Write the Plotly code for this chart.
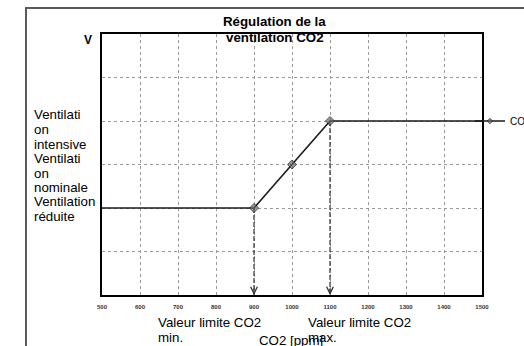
import plotly.graph_objects as go

# ---- data ----
co2_ppm = [500, 900, 1000, 1100, 1500]
ventilation_level = [2, 2, 3, 4, 4]
marker_sizes = [0, 7, 7, 7, 0]
x_ticks = [500, 600, 700, 800, 900, 1000, 1100, 1200, 1300, 1400, 1500]
limit_min = 900
limit_max = 1100
level_labels = [
    ("Ventilati", 115), ("on", 129.5), ("intensive", 144),
    ("Ventilati", 158.5), ("on", 173), ("nominale", 187.5),
    ("Ventilation", 201), ("réduite", 216.5),
]
series_name = "CO2"
title_lines = ["Régulation de la", "ventilation CO2"]

FONT = "Liberation Sans, Arial, sans-serif"
W, H = 524, 346
L, R, T, B = 102, 42, 34, 51
pw, ph = W - L - R, H - T - B

def px_x(px):
    return (px - L) / pw

def px_y(py):
    return (H - B - py) / ph

fig = go.Figure()
annotations = []

# dashed drop lines at the limit values
for xv in (limit_min, limit_max):
    yv = ventilation_level[co2_ppm.index(xv)]
    fig.add_trace(go.Scatter(
        x=[xv, xv], y=[yv, 0], mode="lines",
        line=dict(color="#333333", width=1.2, dash="5px,2px"),
        showlegend=False, hoverinfo="skip"))
    annotations.append(dict(x=xv, y=0, xref="x", yref="y", ax=0, ay=-8,
                            showarrow=True, arrowhead=5, arrowsize=1.1,
                            arrowwidth=1.2, arrowcolor="#333333", text="", standoff=0))

fig.add_trace(go.Scatter(
    x=co2_ppm, y=ventilation_level, mode="lines+markers", name=series_name,
    line=dict(color="#1a1a1a", width=1.6),
    marker=dict(symbol="diamond", size=marker_sizes, color="#6b6b6b"),
))

# title
for txt, yy in zip(title_lines, (21, 37)):
    annotations.append(dict(text=txt, x=px_x(274.5), y=px_y(yy), xref="paper", yref="paper",
                            showarrow=False, xanchor="center", yanchor="middle",
                            font=dict(family=FONT, size=13.3, color="black", weight="bold")))
# V
annotations.append(dict(text="V", x=px_x(94), y=px_y(40), xref="paper", yref="paper",
                        showarrow=False, xanchor="right", yanchor="middle",
                        font=dict(family=FONT, size=12, color="black", weight="bold")))
# left labels
for txt, yy in level_labels:
    annotations.append(dict(text=txt, x=px_x(32), y=px_y(yy), xref="paper", yref="paper",
                            showarrow=False, xanchor="left", yanchor="middle",
                            font=dict(family=FONT, size=13.3, color="black")))
# bottom labels
for x0, lines in ((156, ["Valeur limite CO2", "min."]), (306, ["Valeur limite CO2", "max."])):
    for txt, yy in zip(lines, (322, 337)):
        annotations.append(dict(text=txt, x=px_x(x0), y=px_y(yy), xref="paper", yref="paper",
                                showarrow=False, xanchor="left", yanchor="middle",
                                font=dict(family=FONT, size=13.3, color="black")))
# axis title
annotations.append(dict(text="CO2 [ppm]", x=px_x(291), y=px_y(340), xref="paper", yref="paper",
                        showarrow=False, xanchor="center", yanchor="middle",
                        font=dict(family=FONT, size=13.3, color="black")))

fig.update_layout(
    width=W, height=H,
    margin=dict(l=L, r=R, t=T, b=B, autoexpand=False),
    paper_bgcolor="white", plot_bgcolor="white",
    font=dict(family=FONT, color="black"),
    showlegend=True,
    legend=dict(x=px_x(470), y=px_y(121), xanchor="left", yanchor="middle",
                bgcolor="rgba(0,0,0,0)", borderwidth=0,
                font=dict(family=FONT, size=10, color="black")),
    annotations=annotations,
    shapes=[dict(type="rect", xref="paper", yref="paper",
                 x0=px_x(26), x1=px_x(600), y0=px_y(400), y1=px_y(8),
                 line=dict(color="#5a5a5a", width=2), layer="below")],
)

fig.update_xaxes(
    range=[500, 1500], tickvals=x_ticks, ticktext=[str(v) for v in x_ticks],
    showgrid=True, gridcolor="#9a9a9a", gridwidth=1, griddash="dot",
    showline=True, linecolor="black", linewidth=1.8, mirror=True,
    ticks="", ticklabelstandoff=5,
    tickfont=dict(family=FONT, size=6, color="#333333", weight="bold"),
    zeroline=False,
)
fig.update_yaxes(
    range=[0, 6], dtick=1, showticklabels=False,
    showgrid=True, gridcolor="#9a9a9a", gridwidth=1, griddash="dot",
    showline=True, linecolor="black", linewidth=1.8, mirror=True,
    ticks="", zeroline=False,
)

fig.write_html("out.html", config={"displayModeBar": False},
               post_script="document.body.style.margin='0';")
